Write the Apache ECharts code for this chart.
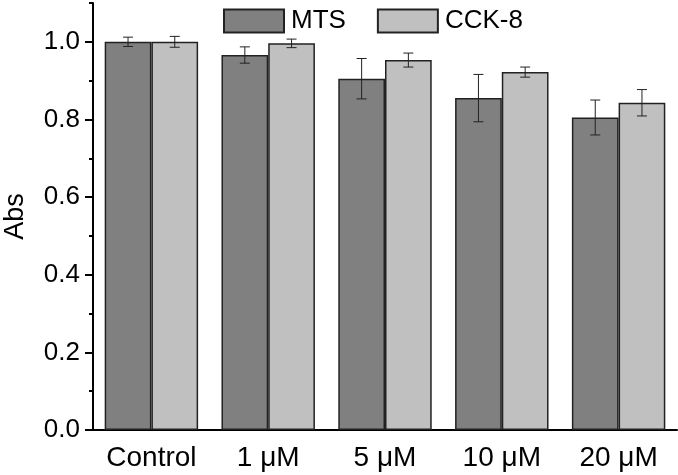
<!DOCTYPE html>
<html>
<head>
<meta charset="utf-8">
<script src="https://cdn.jsdelivr.net/npm/echarts@6/dist/echarts.min.js"></script>
<style>
  html, body { margin: 0; padding: 0; background: #fff; }
  #chart { width: 678px; height: 475px; }
</style>
</head>
<body>
<div id="chart"></div>
<script>
// values
const categories = ['Control', '1 μM', '5 μM', '10 μM', '20 μM']
const mtsValues = [1.00, 0.966, 0.905, 0.855, 0.805]
const mtsErrors = [0.012, 0.021, 0.052, 0.061, 0.045]
const cckValues = [1.00, 0.996, 0.953, 0.922, 0.843]
const cckErrors = [0.014, 0.011, 0.018, 0.013, 0.034]
const yMajorTicks = [0, 0.2, 0.4, 0.6, 0.8, 1.0]

const FONT = 'Liberation Sans, Arial, sans-serif'

// error bar data: [category index, low, high]
function errData(vals, errs) {
  return vals.map((v, i) => [i, v - errs[i], v + errs[i]])
}

// offset is a fraction of the category band (bar pair takes 80% of it)
function errRender(offset) {
  return function (params, api) {
    const i = api.value(0)
    const lo = api.coord([i, api.value(1)])
    const hi = api.coord([i, api.value(2)])
    const band = api.size([1, 0])[0]
    const cx = lo[0] + band * offset
    const cap = 5
    const style = { stroke: '#222', lineWidth: 1 }
    return {
      type: 'group',
      children: [
        { type: 'line', shape: { x1: cx, y1: lo[1], x2: cx, y2: hi[1] }, style: style },
        { type: 'line', shape: { x1: cx - cap, y1: lo[1], x2: cx + cap, y2: lo[1] }, style: style },
        { type: 'line', shape: { x1: cx - cap, y1: hi[1], x2: cx + cap, y2: hi[1] }, style: style }
      ]
    }
  }
}

const chart = echarts.init(document.getElementById('chart'))
chart.setOption({
  animation: false,
  backgroundColor: '#fff',
  grid: { left: 93, right: 1, top: 3, bottom: 45, outerBoundsMode: 'none', containLabel: false },
  legend: {
    data: ['MTS', 'CCK-8'],
    left: 218,
    top: 3,
    itemWidth: 60,
    itemHeight: 23,
    itemGap: 31,
    icon: 'rect',
    textStyle: { fontFamily: FONT, fontSize: 26, color: '#000', padding: [0, 0, 0, 2] }
  },
  xAxis: [
    {
      type: 'category',
      data: categories,
      axisLine: { lineStyle: { color: '#000', width: 2 } },
      axisTick: { alignWithLabel: true, length: 8, lineStyle: { color: '#000', width: 2 } },
      axisLabel: { interval: 0, fontFamily: FONT, fontSize: 28, color: '#000', margin: 14 }
    },
    {
      // shorter ticks at category boundaries
      type: 'category',
      data: categories,
      position: 'bottom',
      axisLine: { show: false },
      axisTick: { alignWithLabel: false, interval: 0, length: 4, lineStyle: { color: '#000', width: 2 } },
      axisLabel: { show: false }
    }
  ],
  yAxis: [
    {
      type: 'value',
      min: 0,
      max: 1.1,
      interval: 0.1,
      splitLine: { show: false },
      axisLine: { show: true, lineStyle: { color: '#000', width: 2 } },
      axisTick: { show: true, length: 4, lineStyle: { color: '#000', width: 2 } },
      axisLabel: { show: false },
      name: 'Abs',
      nameLocation: 'middle',
      nameGap: 64,
      nameTextStyle: { fontFamily: FONT, fontSize: 27, color: '#000' }
    },
    {
      type: 'value',
      min: 0,
      max: 1.1,
      position: 'left',
      splitLine: { show: false },
      axisLine: { show: false },
      axisTick: { show: true, length: 8, customValues: yMajorTicks, lineStyle: { color: '#000', width: 2 } },
      axisLabel: {
        customValues: yMajorTicks,
        fontFamily: FONT,
        fontSize: 26,
        color: '#000',
        margin: 13,
        formatter: (v) => v.toFixed(1)
      }
    }
  ],
  series: [
    {
      name: 'MTS',
      type: 'bar',
      data: mtsValues,
      barGap: '0%',
      barCategoryGap: '20%',
      itemStyle: { color: '#808080', borderColor: '#222', borderWidth: 1.5 }
    },
    {
      name: 'CCK-8',
      type: 'bar',
      data: cckValues,
      itemStyle: { color: '#c0c0c0', borderColor: '#222', borderWidth: 1.5 }
    },
    {
      name: 'MTS err',
      type: 'custom',
      renderItem: errRender(-0.2),
      data: errData(mtsValues, mtsErrors),
      z: 10
    },
    {
      name: 'CCK-8 err',
      type: 'custom',
      renderItem: errRender(0.2),
      data: errData(cckValues, cckErrors),
      z: 10
    }
  ]
})
</script>
</body>
</html>
